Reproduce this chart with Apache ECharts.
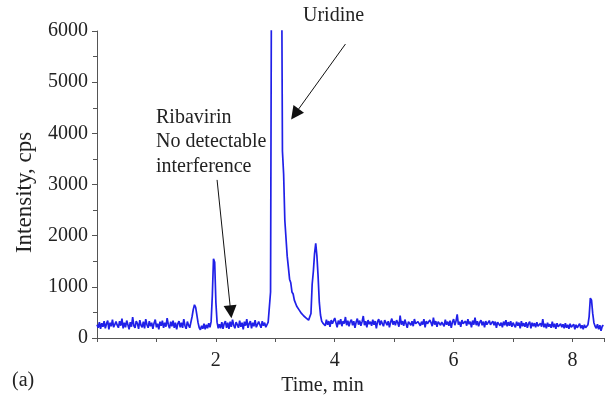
<!DOCTYPE html>
<html>
<head>
<meta charset="utf-8">
<script src="https://cdn.jsdelivr.net/npm/echarts@6/dist/echarts.min.js"></script>
<style>
  html, body { margin: 0; padding: 0; background: #fff; }
  #chart { width: 609px; height: 402px; }
</style>
</head>
<body>
<div id="chart"></div>
<script>
// scan interval of the chromatogram, min
var sampleStep = 0.02;

// intensity (cps), one value per scan, starting at t = 0
var intensity = [
    // 0.00 - 1.58 baseline
    260,200,310,180,290,220,330,190,280,340,170,300,230,360,210,190,320,250,200,330,
    240,380,190,300,210,340,260,170,310,220,410,240,200,330,280,180,350,250,210,320,
    190,370,260,200,330,230,300,180,290,360,210,280,170,320,240,340,200,300,220,390,
    260,190,320,230,340,200,300,170,280,330,210,300,200,370,240,180,320,250,200,310,
    // 1.60 - 1.76 small peak
    420,560,650,600,450,300,200,160,240,
    // 1.78 - 1.90
    180,280,170,260,190,290,210,
    // 1.92 - 2.04 peak near 2 min
    320,820,1550,1480,700,310,190,
    // 2.06 - 2.88 baseline (ribavirin window)
    270,190,310,180,280,330,200,300,180,320,220,360,250,190,310,260,200,340,220,300,
    170,320,240,370,200,280,330,190,300,230,350,210,180,320,260,200,330,240,300,210,
    190,310,
    // 2.90 - 3.10 uridine, off scale
    310,900,9000,9000,9000,9000,9000,9000,9000,9000,9000,
    // 3.12 - 3.80 tail and second peak
    3650,3200,2300,1950,1600,1380,1150,1080,900,860,740,720,620,610,550,540,480,490,430,450,
    390,410,350,380,480,1050,1300,1650,1850,1600,1200,700,450,330,290,
    // 3.82 - 8.24 baseline
    320,240,360,260,330,220,350,280,250,390,300,210,340,270,370,230,330,280,410,250,
    340,230,320,360,250,330,200,310,380,260,340,240,320,430,250,330,210,350,270,320,
    240,360,260,330,190,320,370,250,340,280,230,350,300,250,330,210,310,380,260,330,
    250,350,300,220,440,260,330,240,360,280,200,320,340,250,330,230,370,280,250,320,
    350,240,320,260,370,210,330,280,250,350,300,230,400,260,330,220,320,350,250,310,
    330,230,360,260,320,240,340,200,310,370,250,330,460,260,320,220,350,280,250,330,
    240,370,270,320,210,340,260,400,250,330,230,310,350,250,320,210,330,260,240,340,
    260,230,330,250,320,200,310,340,240,300,210,320,250,350,230,310,240,330,220,300,
    250,210,320,240,300,190,330,230,290,220,310,200,280,320,190,300,230,290,210,310,
    230,200,290,220,370,210,280,190,300,220,270,200,320,210,280,180,290,220,200,280,
    210,270,190,290,200,260,180,280,210,190,270,170,260,200,180,280,190,250,170,260,
    200,180,
    // 8.26 - 8.52 late peak and end
    260,420,780,740,480,300,230,190,270,170,250,140,230,250
];

// annotation arrows: [from, to] in (min, cps)
var ribavirinArrow = [[2.02, 3090], [2.25, 510]];
var uridineArrow = [[4.18, 5745], [3.33, 4375]];

var yTicks = [0, 1000, 2000, 3000, 4000, 5000, 6000];
var xLabels = [2, 4, 6, 8];

var seriesData = [];
for (var i = 0; i < intensity.length; i++) {
    seriesData.push([+(i * sampleStep).toFixed(2), intensity[i]]);
}

var serif = '"Liberation Serif", "Times New Roman", serif';

var myChart = echarts.init(document.getElementById('chart'));
var option = {
    animation: false,
    backgroundColor: '#fff',
    grid: { left: 97, top: 31, right: 5, bottom: 64 },
    xAxis: {
        type: 'value',
        min: 0,
        max: 8.53,
        interval: 2,
        name: 'Time, min',
        nameLocation: 'middle',
        nameGap: 33,
        nameTextStyle: { fontFamily: serif, fontSize: 20, color: '#222', padding: [0, 56, 0, 0] },
        axisLine: { lineStyle: { color: '#555', width: 1 } },
        axisTick: { show: true, length: 4, lineStyle: { color: '#555' } },
        minorTick: { show: true, splitNumber: 2, length: 4, lineStyle: { color: '#555' } },
        axisLabel: {
            fontFamily: serif, fontSize: 20, color: '#222', margin: 13,
            formatter: function (v) { return xLabels.indexOf(v) >= 0 ? String(v) : ''; }
        },
        splitLine: { show: false }
    },
    yAxis: {
        type: 'value',
        min: yTicks[0],
        max: yTicks[yTicks.length - 1],
        interval: 1000,
        name: 'Intensity, cps',
        nameLocation: 'middle',
        nameGap: 61,
        nameTextStyle: { fontFamily: serif, fontSize: 23, color: '#222', padding: [0, 16, 0, 0] },
        axisLine: { show: true, lineStyle: { color: '#555', width: 1 } },
        axisTick: { show: true, length: 5, lineStyle: { color: '#555' } },
        minorTick: { show: true, splitNumber: 2, length: 4, lineStyle: { color: '#555' } },
        axisLabel: {
            fontFamily: serif, fontSize: 20, color: '#222', margin: 9,
            formatter: function (v) { return String(v); }
        },
        splitLine: { show: false }
    },
    series: [{
        type: 'line',
        data: seriesData,
        showSymbol: false,
        clip: true,
        lineStyle: { color: '#2020e8', width: 1.7 },
        markLine: {
            silent: true,
            symbol: ['none', 'triangle'],
            symbolSize: [13, 13],
            label: { show: false },
            lineStyle: { color: '#111', width: 1, type: 'solid' },
            data: [
                [{ coord: ribavirinArrow[0] }, { coord: ribavirinArrow[1] }],
                [{ coord: uridineArrow[0] }, { coord: uridineArrow[1] }]
            ]
        }
    }],
    graphic: [
        { type: 'text', left: 156, top: 105, style: { text: 'Ribavirin\nNo detectable\ninterference', font: '20px ' + serif, fill: '#222', lineHeight: 24.5 } },
        { type: 'text', left: 303, top: 6, style: { text: 'Uridine', font: '20px ' + serif, fill: '#222' } },
        { type: 'text', left: 12, top: 371, style: { text: '(a)', font: '20px ' + serif, fill: '#222' } }
    ]
};
myChart.setOption(option);
</script>
</body>
</html>
